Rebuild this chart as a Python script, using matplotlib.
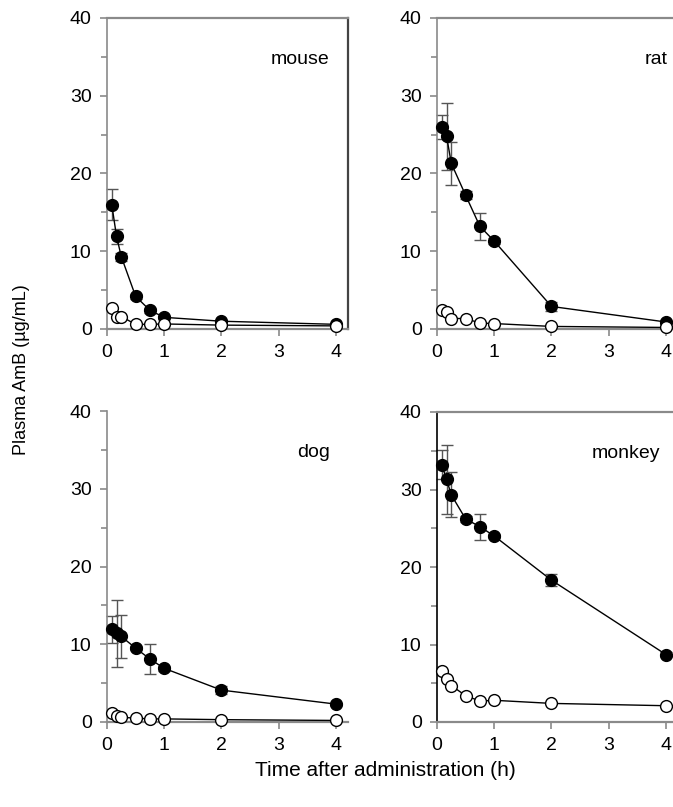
import matplotlib
matplotlib.use("Agg")
import matplotlib.pyplot as plt
import numpy as np

plt.rcParams['font.family'] = ['Liberation Sans', 'DejaVu Sans']

time_h = [0.083, 0.167, 0.25, 0.5, 0.75, 1, 2, 4]
species = ["mouse", "rat", "dog", "monkey"]

mouse_filled = [16.0, 11.9, 9.3, 4.2, 2.4, 1.5, 1.0, 0.6]
mouse_filled_err = [2.0, 1.0, 0.5, 0.3, 0.3, 0.2, 0.2, 0.1]
mouse_open = [2.7, 1.5, 1.6, 0.6, 0.6, 0.65, 0.5, 0.4]

rat_filled = [26.0, 24.8, 21.3, 17.2, 13.2, 11.3, 2.9, 0.9]
rat_filled_err = [1.5, 4.3, 2.8, 0.5, 1.7, 0.4, 0.6, 0.2]
rat_open = [2.5, 2.2, 1.35, 1.35, 0.76, 0.7, 0.33, 0.2]

dog_filled = [11.9, 11.4, 11.0, 9.5, 8.1, 6.9, 4.1, 2.3]
dog_filled_err = [1.7, 4.3, 2.8, 0.3, 1.9, 0.3, 0.5, 0.2]
dog_open = [1.2, 0.8, 0.6, 0.5, 0.4, 0.4, 0.3, 0.2]

monkey_filled = [33.2, 31.3, 29.3, 26.2, 25.2, 24.0, 18.3, 8.7]
monkey_filled_err = [1.9, 4.4, 2.9, 0.4, 1.7, 0.3, 0.8, 0.3]
monkey_open = [6.6, 5.5, 4.7, 3.4, 2.7, 2.8, 2.4, 2.1]

filled = [mouse_filled, rat_filled, dog_filled, monkey_filled]
filled_err = [mouse_filled_err, rat_filled_err, dog_filled_err, monkey_filled_err]
opened = [mouse_open, rat_open, dog_open, monkey_open]

y_ticks = [0, 10, 20, 30, 40]
x_ticks = [0, 1, 2, 3, 4]

W, H = 673, 807
fig = plt.figure(figsize=(W / 100, H / 100), dpi=100)

boxes = [(107, 18, 348, 329), (437, 18, 678, 329),
         (107, 411, 348, 722), (437, 412, 678, 722)]
gray = '#8a8a8a'

for i, (l, t, r, b) in enumerate(boxes):
    ax = fig.add_axes([l / W, 1 - b / H, (r - l) / W, (b - t) / H])
    ax.errorbar(time_h, filled[i], yerr=filled_err[i], fmt='none', ecolor='#555555',
                elinewidth=1.0, capsize=4, capthick=1.0, zorder=2)
    ax.plot(time_h, filled[i], '-o', color='black', lw=1.0, ms=8.5,
            mfc='black', mec='black', zorder=3)
    ax.plot(time_h, opened[i], '-o', color='black', lw=1.0, ms=8.5,
            mfc='white', mec='black', mew=1.0, zorder=4)
    ax.set_xlim(0, 4.21)
    ax.set_ylim(0, 40)
    ax.set_xticks(x_ticks)
    ax.set_yticks(y_ticks)
    ax.set_yticks([5, 15, 25, 35], minor=True)
    ax.tick_params(axis='both', which='both', direction='out', color=gray,
                   labelsize=14, width=1.2)
    ax.tick_params(axis='both', which='major', length=5, pad=6)
    ax.tick_params(axis='y', which='minor', length=4)
    for s in ax.spines.values():
        s.set_color(gray)
        s.set_linewidth(1.6)
    ax.spines['left'].set_linewidth(1.2)
    if i == 0:
        ax.spines['right'].set_color('#444444')
        ax.spines['right'].set_linewidth(1.6)
    if i == 1:
        ax.spines['right'].set_visible(False)
    if i == 2:
        ax.spines['top'].set_visible(False)
        ax.spines['right'].set_visible(False)
    if i == 3:
        ax.spines['left'].set_color('black')
        ax.spines['right'].set_visible(False)
    ax.text(0.925 if i != 1 else 0.955, 0.865, species[i], transform=ax.transAxes,
            ha='right', va='center', fontsize=14)
    for line in ax.lines:
        line.set_clip_on(False)
    for coll in ax.collections:
        coll.set_clip_on(False)

fig.text(22 / W, 1 - 370 / H, 'Plasma AmB (µg/mL)', rotation=90, ha='center',
         va='center', fontsize=13)
fig.text(385 / W, 1 - 770 / H, 'Time after administration (h)', ha='center',
         va='center', fontsize=15)

fig.savefig('out.png', dpi=100)
